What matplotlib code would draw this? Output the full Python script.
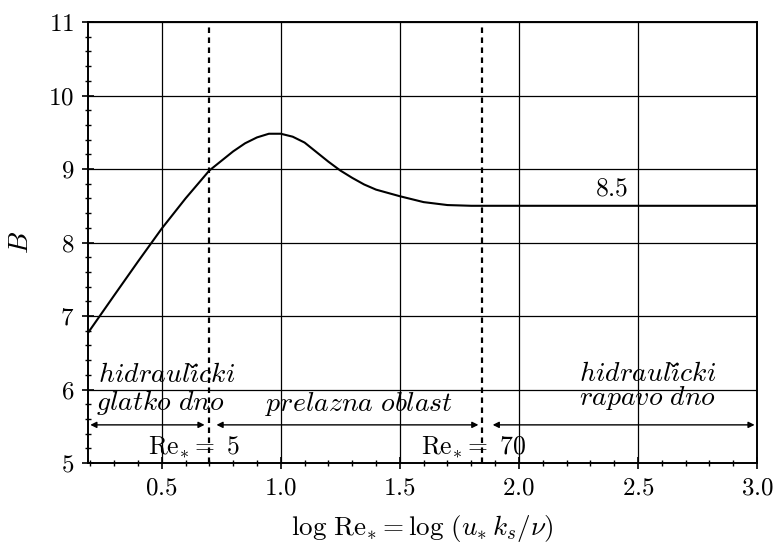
import matplotlib.pyplot as plt
import numpy as np
from matplotlib.ticker import MultipleLocator

plt.rcParams['mathtext.fontset'] = 'cm'
plt.rcParams['font.family'] = ['cmr10', 'DejaVu Serif']
plt.rcParams['axes.formatter.use_mathtext'] = True

# curve B(log Re*)
log_re = [0.19, 0.3, 0.4, 0.5, 0.6, 0.7, 0.8, 0.85, 0.9, 0.95, 1.0, 1.05, 1.1,
          1.15, 1.2, 1.25, 1.3, 1.35, 1.4, 1.5, 1.6, 1.7, 1.8, 2.0, 2.5, 3.0]
b_vals = [6.77, 7.28, 7.74, 8.19, 8.60, 8.98, 9.24, 9.35, 9.43, 9.48, 9.48, 9.44, 9.36,
          9.23, 9.10, 8.98, 8.88, 8.79, 8.72, 8.63, 8.55, 8.51, 8.50, 8.50, 8.50, 8.50]

re_limits = [5, 70]
x_ticks = [0.5, 1.0, 1.5, 2.0, 2.5, 3.0]
y_ticks = [5, 6, 7, 8, 9, 10, 11]

fig = plt.figure(figsize=(7.78, 5.5), dpi=100)
ax = fig.add_axes([0.113, 0.158, 0.86, 0.802])

ax.set_xlim(0.19, 3.0)
ax.set_ylim(5, 11)
ax.grid(True, color='black', lw=0.9)
ax.set_axisbelow(True)

ax.plot(log_re, b_vals, color='black', lw=1.5)

for re in re_limits:
    ax.axvline(np.log10(re), color='black', lw=1.6, ls=(0, (2.5, 2)))

ax.set_xticks(x_ticks)
ax.set_xticklabels(['$%.1f$' % v for v in x_ticks])
ax.set_yticks(y_ticks)
ax.set_yticklabels(['$%d$' % v for v in y_ticks])
ax.xaxis.set_minor_locator(MultipleLocator(0.1))
ax.yaxis.set_minor_locator(MultipleLocator(0.2))
ax.tick_params(which='major', direction='inout', length=8, width=1.2, labelsize=18, pad=6)
ax.tick_params(which='minor', direction='inout', length=5, width=1.0)
for spine in ax.spines.values():
    spine.set_linewidth(1.4)

ax.set_xlabel(r'$\log\,\mathrm{Re}_{*}=\log\,(u_{*}\,k_s/\nu)$', fontsize=19.5, labelpad=10)
ax.set_ylabel(r'$B$', fontsize=20, labelpad=10)

# region arrows
arrow = dict(arrowstyle='<|-|>', color='black', lw=1.0, mutation_scale=9, shrinkA=0, shrinkB=0)
ax.annotate('', xy=(0.2, 5.52), xytext=(0.68, 5.52), arrowprops=arrow)
ax.annotate('', xy=(0.73, 5.52), xytext=(1.83, 5.52), arrowprops=arrow)
ax.annotate('', xy=(1.89, 5.52), xytext=(2.99, 5.52), arrowprops=arrow)

ax.text(0.635, 5.22, r'$\mathrm{Re}_{*}=\ 5$', fontsize=18.5, ha='center', va='center')
ax.text(1.81, 5.22, r'$\mathrm{Re}_{*}=\ 70$', fontsize=18.5, ha='center', va='center')
ax.text(2.39, 8.74, r'$8.5$', fontsize=18.5, ha='center', va='center')

ax.text(0.52, 6.2, r'$\mathit{hidrauli\check{c}ki}$', fontsize=20, ha='center', va='center')
ax.text(0.495, 5.83, r'$\mathit{glatko\ dno}$', fontsize=20, ha='center', va='center')
ax.text(1.33, 5.8, r'$\mathit{prelazna\ oblast}$', fontsize=20, ha='center', va='center')
ax.text(2.54, 6.22, r'$\mathit{hidrauli\check{c}ki}$', fontsize=20, ha='center', va='center')
ax.text(2.54, 5.88, r'$\mathit{rapavo\ dno}$', fontsize=20, ha='center', va='center')

fig.savefig('out.png', dpi=100)
